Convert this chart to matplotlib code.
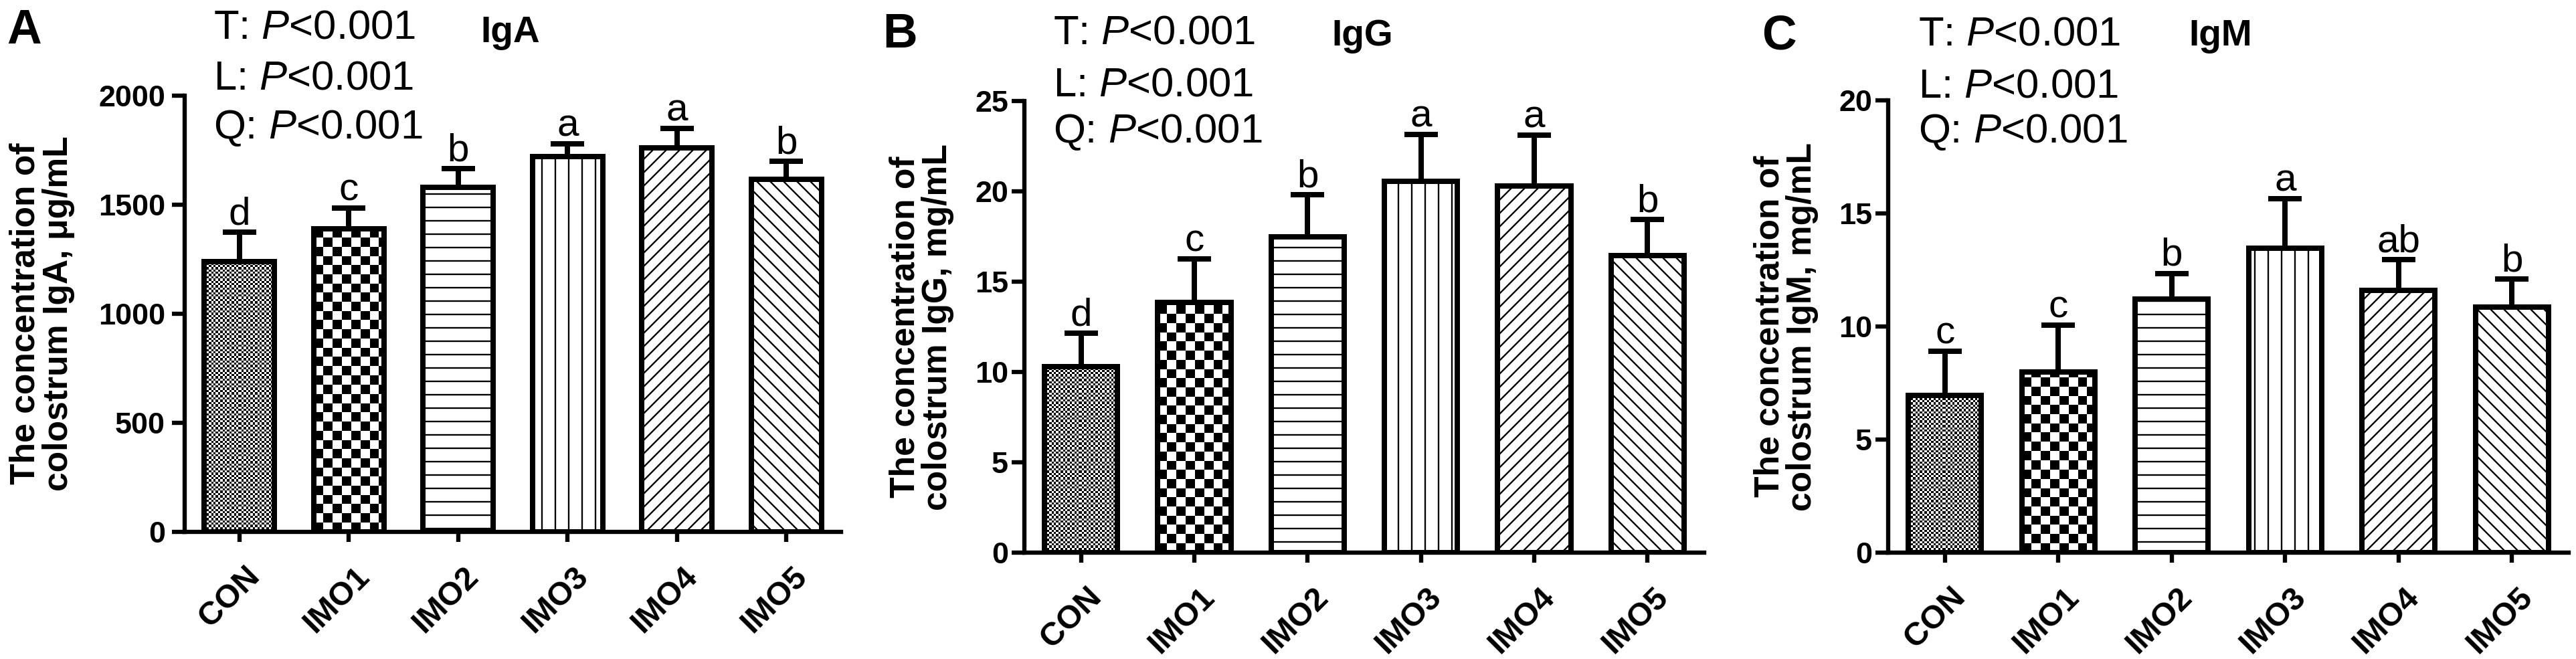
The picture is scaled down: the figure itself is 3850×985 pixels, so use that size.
import numpy as np
import matplotlib
matplotlib.use("Agg")
import matplotlib.pyplot as plt
from matplotlib.transforms import ScaledTranslation

plt.rcParams['font.family'] = ['Liberation Sans', 'DejaVu Sans']
plt.rcParams['mathtext.fontset'] = 'custom'
plt.rcParams['mathtext.rm'] = 'Liberation Sans'
plt.rcParams['mathtext.it'] = 'Liberation Sans:italic'
plt.rcParams['hatch.linewidth'] = 1.4

# ---- data ----
groups = ["CON", "IMO1", "IMO2", "IMO3", "IMO4", "IMO5"]

iga_mean = [1240, 1390, 1580, 1722, 1762, 1617]
iga_sd = [135, 95, 85, 58, 88, 82]
iga_sig = ["d", "c", "b", "a", "a", "b"]

igg_mean = [10.3, 13.85, 17.5, 20.55, 20.3, 16.45]
igg_sd = [1.85, 2.4, 2.3, 2.6, 2.8, 2.0]
igg_sig = ["d", "c", "b", "a", "a", "b"]

igm_mean = [6.95, 8.0, 11.2, 13.45, 11.6, 10.85]
igm_sd = [1.95, 2.05, 1.15, 2.2, 1.35, 1.25]
igm_sig = ["c", "c", "b", "a", "ab", "b"]

stats_lines = ["T: $\\mathit{P}$<0.001", "L: $\\mathit{P}$<0.001", "Q: $\\mathit{P}$<0.001"]

# ---- layout (pixels in a 3850 x 985 canvas) ----
W, H, DPI = 3850, 985, 120
panels = [
    dict(letter="A", title="IgA", mean=iga_mean, sd=iga_sd, sig=iga_sig,
         box=(276, 143, 1257, 795), ylim=2000, ticks=[0, 500, 1000, 1500, 2000],
         ylabel="The concentration of\ncolostrum IgA, \u03bcg/mL", label_px=112,
         letter_xy=(10, 65), title_xy=(718, 63), stats_x=319, stats_y=[58, 134, 207],
         ypad=6),
    dict(letter="B", title="IgG", mean=igg_mean, sd=igg_sd, sig=igg_sig,
         box=(1531, 151, 2547, 826), ylim=25, ticks=[0, 5, 10, 15, 20, 25],
         ylabel="The concentration of\ncolostrum IgG, mg/mL", label_px=1426,
         letter_xy=(1319, 71), title_xy=(1990, 68), stats_x=1574, stats_y=[66, 143, 213],
         ypad=3),
    dict(letter="C", title="IgM", mean=igm_mean, sd=igm_sd, sig=igm_sig,
         box=(2822, 150, 3839, 826), ylim=20, ticks=[0, 5, 10, 15, 20],
         ylabel="The concentration of\ncolostrum IgM, mg/mL", label_px=2718,
         letter_xy=(2633, 73), title_xy=(3271, 68), stats_x=2867, stats_y=[67, 145, 213],
         ypad=3),
]

hatches = [None, None, '-', '|', '//', '\\\\']
checker_cells = [3.4, 13.7, 0, 0, 0, 0]
BAR_W = 0.645
LW = 4.8


def checker(ax, rect, cell):
    # chequered fill drawn pixel by pixel inside one bar
    bb = rect.get_window_extent()
    nx = max(int(round(bb.width)), 1)
    ny = max(int(round(bb.height)), 1)
    ix = (np.arange(nx) // cell).astype(int)
    iy = (np.arange(ny) // cell).astype(int)
    tile = (ix[None, :] + iy[:, None]) % 2
    x0 = rect.get_x()
    ax.imshow(tile, cmap='gray', vmin=0, vmax=1, origin='lower',
              extent=(x0, x0 + rect.get_width(), 0, rect.get_height()),
              interpolation='nearest', aspect='auto', zorder=2)


fig = plt.figure(figsize=(W / DPI, H / DPI), dpi=DPI)

for p in panels:
    l, t, r, b = p["box"]
    ax = fig.add_axes([l / W, 1 - b / H, (r - l) / W, (b - t) / H])
    x = np.arange(len(groups))
    ax.set_xlim(-0.5, 5.5)
    ax.set_ylim(0, p["ylim"])

    bars = ax.bar(x, p["mean"], width=BAR_W, facecolor='white', edgecolor='black',
                  linewidth=LW, zorder=3)
    for i, rect in enumerate(bars):
        if hatches[i]:
            rect.set_hatch(hatches[i])
        else:
            rect.set_facecolor('none')
            checker(ax, rect, checker_cells[i])
    ax.set_xlim(-0.5, 5.5)
    ax.set_ylim(0, p["ylim"])

    ax.errorbar(x, p["mean"], yerr=[np.zeros(len(x)), p["sd"]], fmt='none',
                ecolor='black', elinewidth=LW, capsize=15, capthick=LW, zorder=4)

    for i, s in enumerate(p["sig"]):
        ax.annotate(s, (x[i], p["mean"][i] + p["sd"][i]), xytext=(0, 7),
                    textcoords='offset points', ha='center', va='baseline',
                    fontsize=35, annotation_clip=False)

    for side in ['top', 'right']:
        ax.spines[side].set_visible(False)
    for side in ['left', 'bottom']:
        ax.spines[side].set_linewidth(3.8)

    ax.set_yticks(p["ticks"])
    ax.tick_params(axis='y', direction='out', length=11.4, width=3.8,
                   labelsize=27, pad=p["ypad"])
    for lbl in ax.get_yticklabels():
        lbl.set_fontweight('bold')

    ax.set_xticks(x, groups, rotation=45, ha='right', va='top',
                  rotation_mode='anchor', fontweight='bold', fontsize=29)
    ax.tick_params(axis='x', direction='out', length=9, width=3.8, pad=17)
    shift = ScaledTranslation(8 / DPI, 0, fig.dpi_scale_trans)
    for lbl in ax.get_xticklabels():
        lbl.set_transform(lbl.get_transform() + shift)

    ax.set_ylabel(p["ylabel"], fontsize=31, fontweight='bold', linespacing=1.0)
    ax.yaxis.set_label_coords((p["label_px"] - l) / (r - l), 0.5)

    # panel letter, title and trend statistics
    lx, ly = p["letter_xy"]
    fig.text(lx / W, 1 - ly / H, p["letter"], fontsize=43, fontweight='bold',
             ha='left', va='baseline')
    tx, ty = p["title_xy"]
    fig.text(tx / W, 1 - ty / H, p["title"], fontsize=33, fontweight='bold',
             ha='left', va='baseline')
    for line, sy in zip(stats_lines, p["stats_y"]):
        fig.text(p["stats_x"] / W, 1 - sy / H, line, fontsize=37,
                 ha='left', va='baseline')

fig.savefig("out.png", dpi=DPI, facecolor='white')
